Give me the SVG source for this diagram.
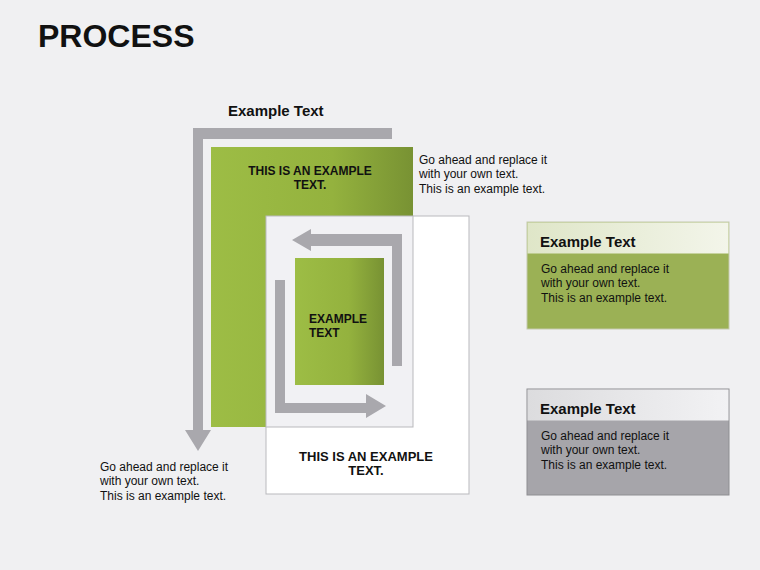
<svg xmlns="http://www.w3.org/2000/svg" width="760" height="570" viewBox="0 0 760 570">
<defs>
<linearGradient id="g1" x1="0" x2="1" y1="0" y2="0"><stop offset="0" stop-color="#9dbd45"/><stop offset="0.6" stop-color="#94b23e"/><stop offset="1" stop-color="#789233"/></linearGradient>
<linearGradient id="hg" x1="0" x2="1"><stop offset="0" stop-color="#dfe6c8"/><stop offset="1" stop-color="#f3f5ea"/></linearGradient>
<linearGradient id="hgr" x1="0" x2="1"><stop offset="0" stop-color="#dcdcde"/><stop offset="1" stop-color="#f2f2f4"/></linearGradient>
</defs>
<style>
text{font-family:"Liberation Sans",Arial,sans-serif;fill:#111}
.b{font-weight:bold}
.s{font-size:12px}
.arr{fill:#a9a8ad}
</style>
<rect width="760" height="570" fill="#f0f0f2"/>
<text x="38" y="47" class="b" font-size="32">PROCESS</text>
<text x="228" y="116" class="b" font-size="15">Example Text</text>
<g id="conn">
<path class="arr" d="M193,128 H392 V139 H203 V430 H211 L198,451 L185,430 H193 Z"/>
<path class="arr" d="M402,234 V366 H392 V246 H311 V251 L292,240 L311,229 V234 Z"/>
<path class="arr" d="M275,280 H285 V403 H366 V394 L386,406 L366,418 V413 H275 Z"/>
</g>
<g id="outer"><rect x="266" y="216" width="203" height="278" fill="#fff" stroke="#b9b9bd"/>
<text x="366" y="461" text-anchor="middle" class="b" font-size="13">THIS IS AN EXAMPLE</text>
<text x="366" y="475" text-anchor="middle" class="b" font-size="13">TEXT.</text></g>
<g id="big"><path d="M211,147 H413 V216 H266 V427 H211 Z" fill="url(#g1)"/>
<rect x="266" y="216" width="147" height="211" fill="#f1f1f4" stroke="#b9b9bd"/>
<text x="310" y="175" text-anchor="middle" class="b" font-size="12">THIS IS AN EXAMPLE</text>
<text x="310" y="189" text-anchor="middle" class="b" font-size="12">TEXT.</text></g>
<path class="arr" d="M402,234 V366 H392 V246 H311 V251 L292,240 L311,229 V234 Z"/>
<path class="arr" d="M275,280 H285 V403 H366 V394 L386,406 L366,418 V413 H275 Z"/>
<g id="inner"><rect x="295" y="258" width="89" height="127" fill="url(#g1)"/>
<text x="309" y="323" class="b" font-size="12">EXAMPLE</text>
<text x="309" y="337" class="b" font-size="12">TEXT</text></g>
<g id="t1"><text x="419" y="164" class="s">Go ahead and replace it</text><text x="419" y="178" class="s">with your own text.</text><text x="419" y="193" class="s">This is an example text.</text></g>
<g id="t2"><text x="100" y="471" class="s">Go ahead and replace it</text><text x="100" y="485" class="s">with your own text.</text><text x="100" y="500" class="s">This is an example text.</text></g>
<g id="box1"><rect x="527" y="222" width="202" height="107" fill="#9bb155" stroke="#c4c9ad"/>
<rect x="527.5" y="222.5" width="201" height="31" fill="url(#hg)"/>
<text x="540" y="247" class="b" font-size="15">Example Text</text>
<text x="541" y="273" class="s">Go ahead and replace it</text><text x="541" y="287" class="s">with your own text.</text><text x="541" y="302" class="s">This is an example text.</text></g>
<g id="box2"><rect x="527" y="389" width="202" height="106" fill="#a6a5aa" stroke="#8e8e92"/>
<rect x="527.5" y="389.5" width="201" height="31" fill="url(#hgr)"/>
<text x="540" y="414" class="b" font-size="15">Example Text</text>
<text x="541" y="440" class="s">Go ahead and replace it</text><text x="541" y="454" class="s">with your own text.</text><text x="541" y="469" class="s">This is an example text.</text></g>
</svg>
